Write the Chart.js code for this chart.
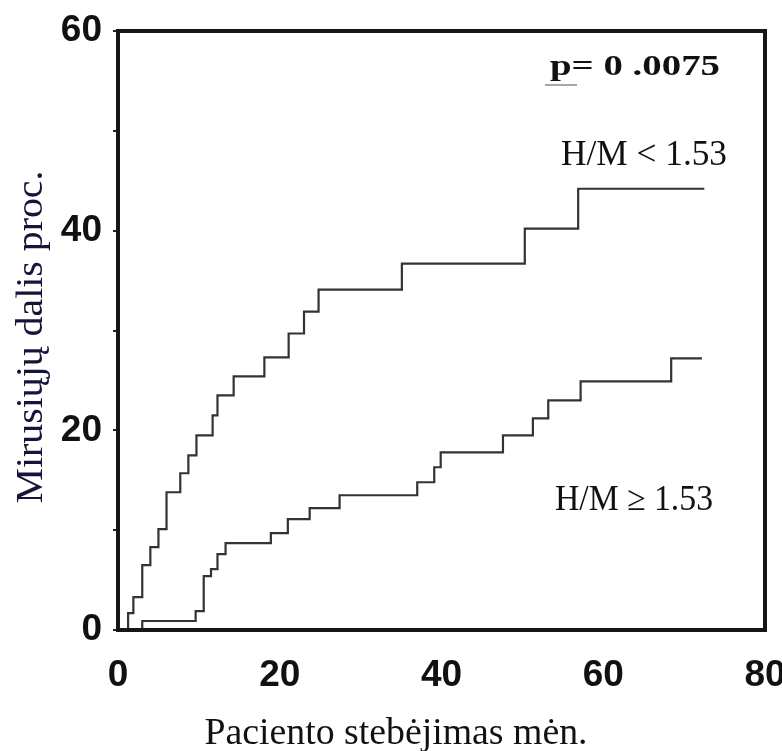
<!DOCTYPE html>
<html>
<head>
<meta charset="utf-8">
<script src="https://cdn.jsdelivr.net/npm/chart.js@4.4.1/dist/chart.umd.min.js"></script>
<style>
  body { margin: 0; background: #fff; }
  #wrap { width: 782px; height: 751px; }
</style>
</head>
<body>
<div id="wrap"><canvas id="kmChart" width="782" height="751"></canvas></div>
<script>
// follow-up month of each step and the cumulative % dead after it
var lowRatioMonths = [1.25, 1.25, 1.9, 3.0, 4.0, 5.0, 6.0, 7.7, 8.7, 9.7, 11.7, 12.3, 14.3, 18.1, 21.1, 23.0, 24.8, 35.1, 50.3, 56.9, 72.5];
var lowRatioPct    = [0, 1.7, 3.3, 6.5, 8.3, 10.1, 13.8, 15.7, 17.5, 19.5, 21.5, 23.5, 25.4, 27.3, 29.7, 31.9, 34.1, 36.7, 40.2, 44.2, 44.2];

var highRatioMonths = [3.0, 3.0, 9.6, 10.6, 11.5, 12.3, 13.3, 18.9, 21.0, 23.7, 27.4, 37.0, 39.1, 39.9, 47.6, 51.3, 53.2, 57.2, 68.4, 72.2];
var highRatioPct    = [0, 0.9, 1.9, 5.4, 6.1, 7.6, 8.7, 9.7, 11.1, 12.2, 13.5, 14.8, 16.3, 17.8, 19.5, 21.2, 23.0, 24.9, 27.2, 27.2];

var groupLabels = ["H/M < 1.53", "H/M \u2265 1.53"];
var pValueText = "p= 0 .0075";
var xTitle = "Paciento stebėjimas mėn.";
var yTitle = "Mirusiųjų dalis proc.";

function toPoints(xs, ys) {
  return xs.map((x, i) => ({ x: x, y: ys[i] }));
}

// draw text centred on cx, squeezed/stretched to the given width
function fitText(ctx, text, cx, cy, font, width, color, angle) {
  ctx.save();
  ctx.font = font;
  ctx.fillStyle = color;
  ctx.textAlign = "center";
  ctx.textBaseline = angle ? "middle" : "alphabetic";
  var w = ctx.measureText(text).width;
  ctx.translate(cx, cy);
  if (angle) ctx.rotate(angle);
  ctx.scale(width / w, 1);
  ctx.fillText(text, 0, 0);
  ctx.restore();
}

var frameAndText = {
  id: "frameAndText",
  afterDraw: function (chart) {
    var ctx = chart.ctx;
    var a = chart.chartArea;
    ctx.save();
    ctx.strokeStyle = "#161616";
    ctx.lineWidth = 4;
    ctx.strokeRect(a.left, a.top, a.right - a.left, a.bottom - a.top);

    // underline under the "p"
    ctx.strokeStyle = "#8a8a8a";
    ctx.lineWidth = 1.5;
    ctx.beginPath();
    ctx.moveTo(545, 85);
    ctx.lineTo(577, 85);
    ctx.stroke();
    ctx.restore();

    fitText(ctx, pValueText, 635, 75, 'bold 30px "Liberation Serif"', 170, "#111");
    fitText(ctx, groupLabels[0], 644, 165, '35px "Liberation Serif"', 166, "#111");
    fitText(ctx, groupLabels[1], 634, 510, '35px "Liberation Serif"', 158, "#111");
    fitText(ctx, xTitle, 396, 744, '37px "Liberation Serif"', 383, "#111");
    fitText(ctx, yTitle, 32, 337, '37px "Liberation Serif"', 333, "#15153a", -Math.PI / 2);
  }
};

var kmChart = new Chart(document.getElementById("kmChart"), {
  type: "line",
  data: {
    datasets: [{
      label: groupLabels[0],
      data: toPoints(lowRatioMonths, lowRatioPct),
      stepped: "before",
      borderColor: "#333",
      borderWidth: 2.2,
      pointRadius: 0,
      fill: false
    }, {
      label: groupLabels[1],
      data: toPoints(highRatioMonths, highRatioPct),
      stepped: "before",
      borderColor: "#333",
      borderWidth: 2.2,
      pointRadius: 0,
      fill: false
    }]
  },
  options: {
    responsive: false,
    animation: false,
    layout: { padding: { top: 31, right: 17, left: 0, bottom: 0 } },
    plugins: {
      legend: { display: false },
      tooltip: { enabled: false }
    },
    scales: {
      x: {
        type: "linear",
        min: 0,
        max: 80,
        ticks: {
          stepSize: 20,
          padding: 16,
          color: "#111",
          font: { family: '"Liberation Sans"', weight: "bold", size: 37 }
        },
        grid: { display: false },
        border: { display: false },
        afterFit: function (scale) {
          scale.height = 121;
          scale.paddingLeft = 0;
          scale.paddingRight = 0;
        }
      },
      y: {
        min: 0,
        max: 60,
        ticks: {
          stepSize: 10,
          padding: 11,
          color: "#111",
          font: { family: '"Liberation Sans"', weight: "bold", size: 37 },
          callback: function (v) { return v % 20 === 0 ? v : ""; }
        },
        grid: { drawOnChartArea: false, tickLength: 5, color: "#222", lineWidth: 2 },
        border: { display: false },
        afterFit: function (scale) {
          scale.width = 118;
          scale.paddingTop = 0;
          scale.paddingBottom = 0;
        }
      }
    }
  },
  plugins: [frameAndText]
});
</script>
</body>
</html>
